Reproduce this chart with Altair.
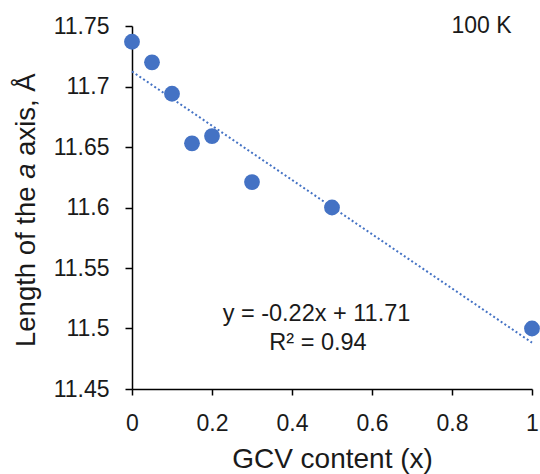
import altair as alt
import pandas as pd

# ---- data ----
gcv = [0.0, 0.05, 0.10, 0.15, 0.20, 0.30, 0.50, 1.00]
a_len = [11.737, 11.720, 11.694, 11.653, 11.659, 11.621, 11.600, 11.500]
x_ticks = [0, 0.2, 0.4, 0.6, 0.8, 1.0]
y_ticks = [11.45, 11.5, 11.55, 11.6, 11.65, 11.7, 11.75]
eq_lines = ["y = -0.22x + 11.71", "R² = 0.94"]
temp_label = ["100 K"]
y_title_parts = ["Length of the", "a", "axis, Å"]
x_title = "GCV content (x)"

df = pd.DataFrame({"x": gcv, "y": a_len})

BLUE = "#4472C4"
FONT = "Liberation Sans"
TXT = "#1a1a1a"
W, H = 400, 363

axis_common = dict(
    domainColor="black", domainWidth=1.5, tickColor="black", tickWidth=1.5,
    labelFont=FONT, labelFontSize=23, labelColor=TXT, grid=False,
    labelFlush=False, labelOverlap=False,
)

xenc = alt.X(
    "x:Q",
    scale=alt.Scale(domain=[0, 1], nice=False, zero=False),
    axis=alt.Axis(values=x_ticks, format=".1~f", title=x_title, tickSize=6,
                  labelPadding=17, titleFont=FONT, titleFontSize=28,
                  titleFontWeight="normal", titleColor=TXT, titleY=78.5,
                  titleBaseline="alphabetic", **axis_common),
)
yenc = alt.Y(
    "y:Q",
    scale=alt.Scale(domain=[11.45, 11.75], nice=False, zero=False),
    axis=alt.Axis(values=y_ticks, format=".4~g", title=None, tickSize=7,
                  labelPadding=16, **axis_common),
)

base = alt.Chart(df)
trend = base.transform_regression("x", "y", extent=[0, 1]).mark_line(
    color=BLUE, strokeWidth=2, strokeDash=[2, 2.5]
).encode(x=xenc, y=yenc)
points = base.mark_circle(size=250, color=BLUE, opacity=1).encode(x=xenc, y=yenc)


def label(text, x, y, size, align="center", angle=0, style="normal"):
    return alt.Chart(pd.DataFrame({"t": [text]})).mark_text(
        font=FONT, fontSize=size, color=TXT, align=align, baseline="alphabetic",
        angle=angle, fontStyle=style,
    ).encode(text="t:N", x=alt.value(x), y=alt.value(y))


texts = [
    label(temp_label[0], 349.5, 7.3, 23),
    label(eq_lines[0], 184.5, 295, 23.5),
    label(eq_lines[1], 186, 324, 23.5),
    label(y_title_parts[0], -97, 321, 27.5, align="left", angle=270),
    label(y_title_parts[1], -97, 152.8, 27.5, align="left", angle=270, style="italic"),
    label(y_title_parts[2], -97, 129.9, 27.5, align="left", angle=270),
]

chart = alt.layer(trend, points, *texts).properties(
    width=W, height=H,
    autosize=alt.AutoSizeParams(type="none"),
    padding={"left": 132, "top": 26, "right": 8, "bottom": 85},
).configure_view(stroke=None)

chart.save("out.html", embed_options={"renderer": "svg", "actions": False})
